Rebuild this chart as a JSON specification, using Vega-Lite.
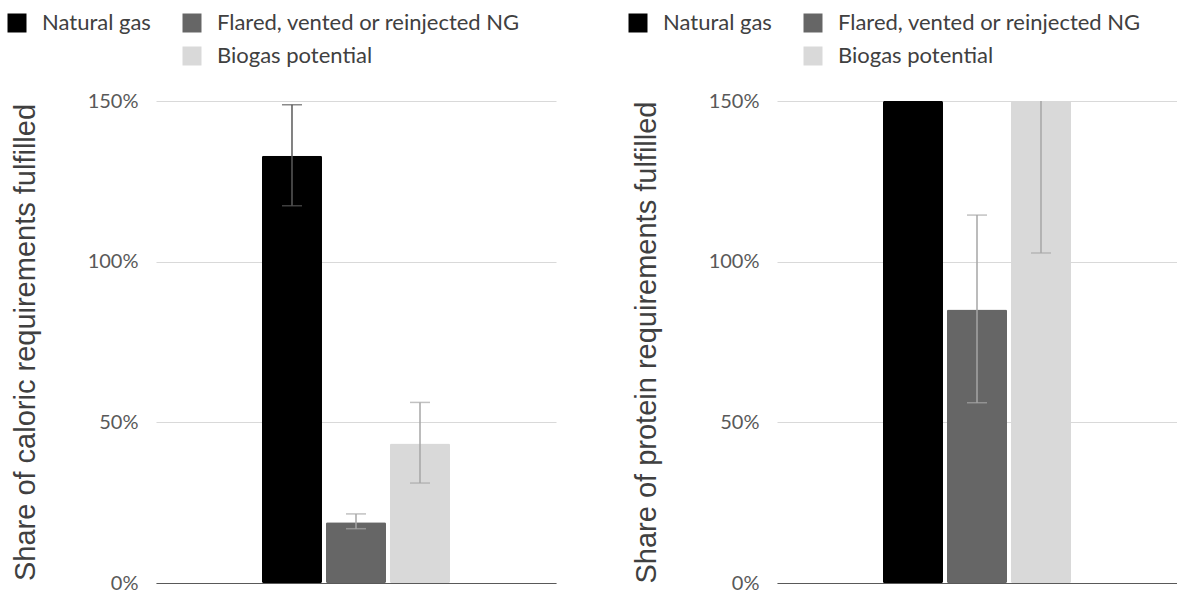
{
  "$schema": "https://vega.github.io/schema/vega-lite/v6.json",
  "padding": {"left": 6, "top": 12, "right": 0, "bottom": 0},
  "background": "white",
  "datasets": {
    "bars": [
      {"panel": "caloric", "series": "Natural gas", "value": 1.33, "lo": 1.174, "hi": 1.488},
      {"panel": "caloric", "series": "Flared, vented or reinjected NG", "value": 0.189, "lo": 0.169, "hi": 0.215},
      {"panel": "caloric", "series": "Biogas potential", "value": 0.434, "lo": 0.311, "hi": 0.562},
      {"panel": "protein", "series": "Natural gas", "value": 2.6, "lo": 2.3, "hi": 2.9},
      {"panel": "protein", "series": "Flared, vented or reinjected NG", "value": 0.851, "lo": 0.561, "hi": 1.145},
      {"panel": "protein", "series": "Biogas potential", "value": 2.0, "lo": 1.027, "hi": 2.97}
    ]
  },
  "data": {"name": "bars"},
  "hconcat": [
    {
      "width": 400,
      "height": 482,
      "transform": [{"filter": "datum.panel == 'caloric'"}],
      "encoding": {
        "x": {
          "field": "series", "type": "nominal", "title": null,
          "scale": {"domain": ["_l", "Natural gas", "Flared, vented or reinjected NG", "Biogas potential", "_r"], "paddingInner": 0.0625, "paddingOuter": 0.656},
          "axis": {"labels": false, "ticks": false, "grid": false, "domainColor": "#595959", "domainWidth": 1.2}
        }
      },
      "layer": [
        {
          "mark": {"type": "bar", "cornerRadius": 1.5},
          "encoding": {
            "y": {
              "field": "value", "type": "quantitative",
              "scale": {"domain": [0, 1.5], "nice": false, "clamp": true},
              "axis": {"values": [0, 0.5, 1, 1.5], "format": ".0%", "title": "Share of caloric requirements fulfilled"}
            },
            "color": {
              "field": "series", "type": "nominal",
              "scale": {"domain": ["Natural gas", "Flared, vented or reinjected NG", "_", "Biogas potential"], "range": ["#000000", "#666666", "#ffffff", "#d9d9d9"]},
              "legend": {"orient": "none", "legendX": -150, "legendY": -89, "columns": 2, "direction": "horizontal", "title": null, "symbolType": "square", "symbolSize": 361, "symbolStrokeWidth": 0, "labelFont": "Lato", "labelFontSize": 22, "labelColor": "#404040", "labelOffset": 14, "columnPadding": 30, "rowPadding": 11, "labelLimit": 500, "labelExpr": "datum.label == '_' ? '' : datum.label"}
            }
          }
        },
        {
          "transform": [{"filter": "datum.lo <= 1.5"}],
          "mark": {"type": "rule", "strokeWidth": 1.5},
          "encoding": {
            "y": {"field": "lo", "type": "quantitative"},
            "y2": {"field": "hi"},
            "stroke": {"field": "series", "type": "nominal", "scale": {"domain": ["Natural gas", "Flared, vented or reinjected NG", "Biogas potential"], "range": ["#595959", "#a6a6a6", "#a6a6a6"]}, "legend": null}
          }
        },
        {
          "transform": [{"filter": "datum.lo <= 1.5"}],
          "mark": {"type": "tick", "thickness": 1.5, "size": 20},
          "encoding": {
            "y": {"field": "lo", "type": "quantitative"},
            "fill": {"field": "series", "type": "nominal", "scale": {"domain": ["Natural gas", "Flared, vented or reinjected NG", "Biogas potential"], "range": ["#595959", "#a6a6a6", "#a6a6a6"]}, "legend": null}
          }
        },
        {
          "transform": [{"filter": "datum.hi <= 1.5"}],
          "mark": {"type": "tick", "thickness": 1.5, "size": 20},
          "encoding": {
            "y": {"field": "hi", "type": "quantitative"},
            "fill": {"field": "series", "type": "nominal", "scale": {"domain": ["Natural gas", "Flared, vented or reinjected NG", "Biogas potential"], "range": ["#595959", "#a6a6a6", "#a6a6a6"]}, "legend": null}
          }
        }
      ]
    },
    {
      "width": 400,
      "height": 482,
      "transform": [{"filter": "datum.panel == 'protein'"}],
      "encoding": {
        "x": {
          "field": "series", "type": "nominal", "title": null,
          "scale": {"domain": ["_l", "Natural gas", "Flared, vented or reinjected NG", "Biogas potential", "_r"], "paddingInner": 0.0625, "paddingOuter": 0.656},
          "axis": {"labels": false, "ticks": false, "grid": false, "domainColor": "#595959", "domainWidth": 1.2}
        }
      },
      "layer": [
        {
          "mark": {"type": "bar", "cornerRadius": 1.5},
          "encoding": {
            "y": {
              "field": "value", "type": "quantitative",
              "scale": {"domain": [0, 1.5], "nice": false, "clamp": true},
              "axis": {"values": [0, 0.5, 1, 1.5], "format": ".0%", "title": "Share of protein requirements fulfilled"}
            },
            "color": {
              "field": "series", "type": "nominal",
              "scale": {"domain": ["Natural gas", "Flared, vented or reinjected NG", "_", "Biogas potential"], "range": ["#000000", "#666666", "#ffffff", "#d9d9d9"]},
              "legend": {"orient": "none", "legendX": -150, "legendY": -89, "columns": 2, "direction": "horizontal", "title": null, "symbolType": "square", "symbolSize": 361, "symbolStrokeWidth": 0, "labelFont": "Lato", "labelFontSize": 22, "labelColor": "#404040", "labelOffset": 14, "columnPadding": 30, "rowPadding": 11, "labelLimit": 500, "labelExpr": "datum.label == '_' ? '' : datum.label"}
            }
          }
        },
        {
          "transform": [{"filter": "datum.lo <= 1.5"}],
          "mark": {"type": "rule", "strokeWidth": 1.5},
          "encoding": {
            "y": {"field": "lo", "type": "quantitative"},
            "y2": {"field": "hi"},
            "stroke": {"field": "series", "type": "nominal", "scale": {"domain": ["Natural gas", "Flared, vented or reinjected NG", "Biogas potential"], "range": ["#595959", "#a6a6a6", "#a6a6a6"]}, "legend": null}
          }
        },
        {
          "transform": [{"filter": "datum.lo <= 1.5"}],
          "mark": {"type": "tick", "thickness": 1.5, "size": 20},
          "encoding": {
            "y": {"field": "lo", "type": "quantitative"},
            "fill": {"field": "series", "type": "nominal", "scale": {"domain": ["Natural gas", "Flared, vented or reinjected NG", "Biogas potential"], "range": ["#595959", "#a6a6a6", "#a6a6a6"]}, "legend": null}
          }
        },
        {
          "transform": [{"filter": "datum.hi <= 1.5"}],
          "mark": {"type": "tick", "thickness": 1.5, "size": 20},
          "encoding": {
            "y": {"field": "hi", "type": "quantitative"},
            "fill": {"field": "series", "type": "nominal", "scale": {"domain": ["Natural gas", "Flared, vented or reinjected NG", "Biogas potential"], "range": ["#595959", "#a6a6a6", "#a6a6a6"]}, "legend": null}
          }
        }
      ]
    }
  ],
  "spacing": 221,
  "bounds": "flush",
  "resolve": {
    "scale": {"x": "independent", "y": "independent", "color": "independent", "stroke": "independent", "fill": "independent"},
    "legend": {"color": "independent"}
  },
  "config": {
    "view": {"stroke": null},
    "axis": {"labelFont": "Lato", "labelFontSize": 20, "labelColor": "#595959", "gridColor": "#d9d9d9", "gridWidth": 1.2},
    "axisY": {"ticks": false, "domain": false, "labelPadding": 18, "titleFont": "Liberation Sans", "titleFontSize": 29, "titleFontWeight": "normal", "titleColor": "#404040", "titlePadding": 47}
  }
}
